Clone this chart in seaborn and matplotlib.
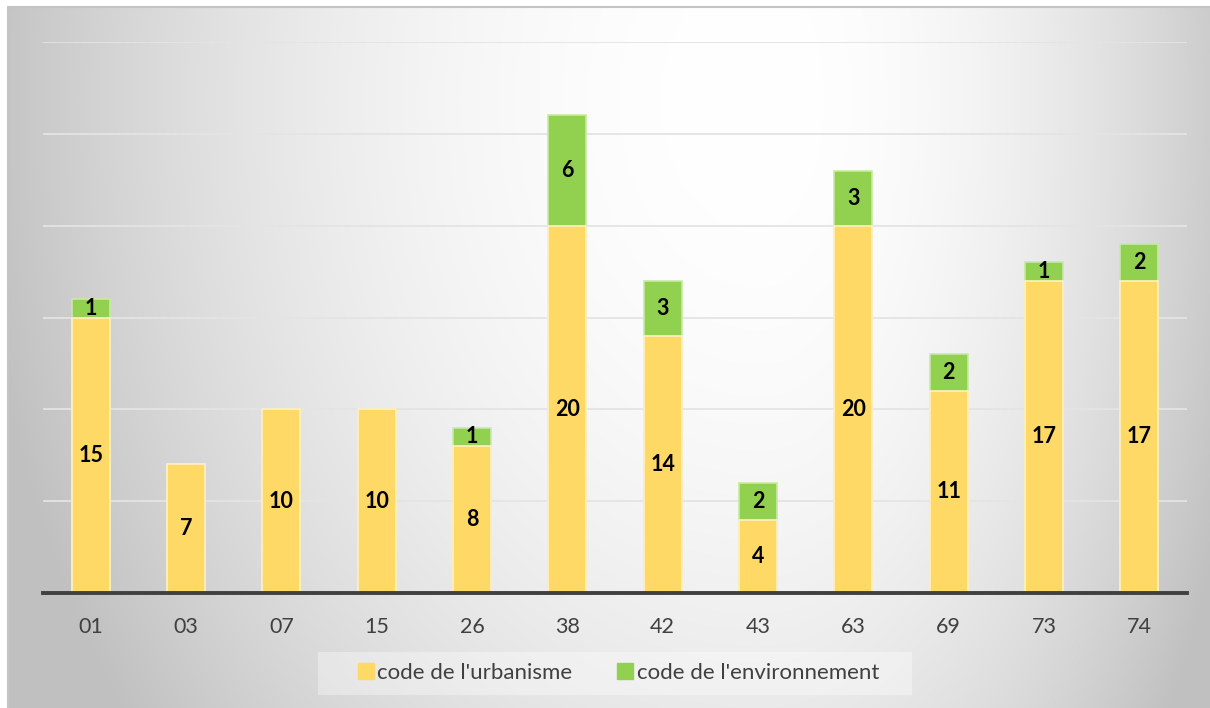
import numpy as np
import pandas as pd
import seaborn as sns
from matplotlib import pyplot as plt
from matplotlib.lines import Line2D
from matplotlib.patches import Rectangle

departements = ['01', '03', '07', '15', '26', '38', '42', '43', '63', '69', '73', '74']
urbanisme = [15, 7, 10, 10, 8, 20, 14, 4, 20, 11, 17, 17]
environnement = [1, 0, 0, 0, 1, 6, 3, 2, 3, 2, 1, 2]

yellow = '#FFD966'
green = '#92D050'
txt_color = '#404040'

df = pd.DataFrame({'dep': departements, 'urb': urbanisme, 'env': environnement})
df['total'] = df['urb'] + df['env']

sns.set_style('white')
plt.rcParams['font.family'] = ['Lato', 'DejaVu Sans']

W, H = 1210, 708
fig = plt.figure(figsize=(W / 100, H / 100), dpi=100)

# Background: off-centre gradient, white near the top middle, grey at the edges.
bg = fig.add_axes([0, 0, 1, 1], zorder=0)
bg.set_axis_off()
yy, xx = np.mgrid[0:H, 0:W]
cx, cy = 760, 100
rx = np.where(xx > cx, 480, 750)
r = np.sqrt(((xx - cx) / rx) ** 2 + ((yy - cy) / 1000) ** 2)
shade = 255 - 57 * np.clip(r, 0, 1.05) ** 2
shade[(yy < 7) | (xx < 8)] = 255
img = np.dstack([shade, shade, shade]) / 255
bg.imshow(img, extent=[0, W, H, 0], aspect='auto')
bg.plot([8, W], [7, 7], color='#c4c4c4', lw=1.5)
bg.plot([8, 8], [7, H], color='#c4c4c4', lw=1.5)
bg.set_xlim(0, W)
bg.set_ylim(H, 0)

ax = fig.add_axes([43 / W, 115 / H, 1144 / W, 551 / H], zorder=1)
ax.patch.set_alpha(0)

# Stacked bars: total in green, urbanisme in yellow on top of it.
sns.barplot(data=df, x='dep', y='total', color=green, saturation=1, width=0.4,
            errorbar=None, edgecolor='#c8eaa6', linewidth=1.2, ax=ax)
sns.barplot(data=df, x='dep', y='urb', color=yellow, saturation=1, width=0.4,
            errorbar=None, edgecolor='#fff1c4', linewidth=1.2, ax=ax)

for i, (u, e) in enumerate(zip(urbanisme, environnement)):
    ax.text(i, u / 2, str(u), ha='center', va='center', fontsize=15.5,
            fontweight='bold', color='black')
    if e > 0:
        ax.text(i, u + e / 2, str(e), ha='center', va='center', fontsize=15.5,
                fontweight='bold', color='black')

ax.set_ylim(0, 30)
ax.set_xlim(-0.5, len(departements) - 0.5)
ax.set_yticks(range(0, 31, 5))
ax.yaxis.grid(True, color='#e4e4e4', lw=1.3)
ax.set_axisbelow(True)
ax.tick_params(axis='y', left=False, labelleft=False)
ax.tick_params(axis='x', bottom=False, labelsize=15.5, labelcolor=txt_color, pad=14)
ax.set_xlabel('')
ax.set_ylabel('')
for s in ['left', 'right', 'top']:
    ax.spines[s].set_visible(False)
ax.spines['bottom'].set_color(txt_color)
ax.spines['bottom'].set_linewidth(2.8)

# Legend box at the bottom
fig.patches.append(Rectangle((318 / W, 13 / H), 594 / W, 43 / H, transform=fig.transFigure,
                             facecolor='white', alpha=0.35, edgecolor='none', zorder=1))
handles = [Line2D([], [], marker='s', ls='', markersize=11, color=yellow, label="code de l'urbanisme"),
           Line2D([], [], marker='s', ls='', markersize=11, color=green, label="code de l'environnement")]
fig.legend(handles=handles, loc='center', bbox_to_anchor=(618 / W, 35 / H), ncol=2,
           frameon=False, fontsize=16, labelcolor=txt_color, handletextpad=0.1,
           handlelength=0.8, columnspacing=2.0)

fig.savefig('out.png', dpi=100)
